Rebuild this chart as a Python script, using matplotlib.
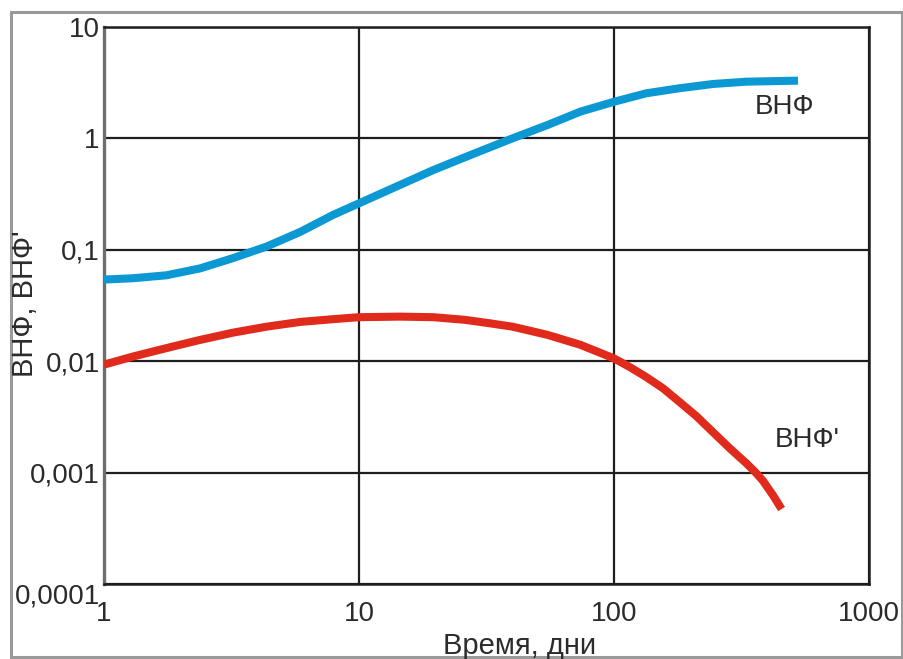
import matplotlib
matplotlib.use("Agg")
import matplotlib.pyplot as plt
import matplotlib.transforms as mtransforms
from matplotlib.patches import Rectangle

plt.rcParams['font.family'] = ['Liberation Sans', 'DejaVu Sans']

# ВНФ - водонефтяной фактор и его производная по времени
t_vnf = [1, 1.3, 1.76, 2.38, 3.2, 4.35, 5.9, 7.9, 10, 14.5, 19.6, 26.4, 30, 40, 55,
         74, 100, 134, 181, 245, 331, 528]
vnf = [0.054, 0.0555, 0.059, 0.068, 0.084, 0.107, 0.145, 0.205, 0.261, 0.382, 0.52,
       0.685, 0.77, 1.0, 1.32, 1.74, 2.13, 2.54, 2.82, 3.08, 3.23, 3.30]

t_dvnf = [1, 1.3, 1.76, 2.38, 3.2, 4.35, 5.9, 7.9, 10, 14.5, 19.6, 26, 32, 40, 55, 74,
          100, 115, 134, 156, 181, 211, 245, 285, 331, 360, 385, 422, 455]
dvnf = [0.0093, 0.011, 0.0131, 0.0155, 0.018, 0.0204, 0.0225, 0.0238, 0.0248, 0.0251,
        0.0248, 0.0235, 0.0220, 0.0204, 0.0172, 0.0140, 0.0106, 0.0089, 0.0072, 0.0057,
        0.0043, 0.0032, 0.0023, 0.00165, 0.00121, 0.00100, 0.00084, 0.00062, 0.00047]

y_ticks = [0.0001, 0.001, 0.01, 0.1, 1, 10]
y_labels = ['0,0001', '0,001', '0,01', '0,1', '1', '10']
x_ticks = [1, 10, 100, 1000]
x_labels = ['1', '10', '100', '1000']

text_color = '#2b2b2b'

fig = plt.figure(figsize=(9.04, 6.59), dpi=100)
ax = fig.add_axes([0.115, 0.114, 0.846, 0.845])

ax.plot(t_vnf, vnf, color='#0c98d2', lw=5.8, solid_capstyle='butt', zorder=3)
ax.plot(t_dvnf, dvnf, color='#e02a1c', lw=5.8, solid_capstyle='butt', zorder=3)

ax.set_xscale('log')
ax.set_yscale('log')
ax.set_xlim(1, 1000)
ax.set_ylim(0.0001, 10)

ax.set_xticks(x_ticks)
ax.set_xticklabels(x_labels)
ax.set_yticks(y_ticks)
ax.set_yticklabels(y_labels)
ax.minorticks_off()
ax.tick_params(length=0, labelsize=20, labelcolor=text_color)
ax.tick_params(axis='x', pad=12)
ax.tick_params(axis='y', pad=3)

# нижнюю подпись оси Y сдвигаем вниз, чтобы не налезала на "1"
lbl = ax.get_yticklabels()[0]
lbl.set_transform(lbl.get_transform() + mtransforms.ScaledTranslation(0, -10 / 100, fig.dpi_scale_trans))

ax.grid(True, which='major', color='#1e1e1e', lw=1.6)
for side in ['top', 'right', 'bottom']:
    ax.spines[side].set_color('#1e1e1e')
    ax.spines[side].set_linewidth(1.8)
ax.spines['left'].set_color('#6e6e6e')
ax.spines['left'].set_linewidth(2.4)

ax.text(357, 1.91, 'ВНФ', fontsize=20, color=text_color, ha='left', va='center')
ax.text(428, 0.00196, "ВНФ'", fontsize=20, color=text_color, ha='left', va='center')

fig.text(25 / 904, 1 - 304 / 659, "ВНФ, ВНФ'", fontsize=21, color=text_color,
         rotation=90, ha='center', va='center')
fig.text(520 / 904, 1 - 646 / 659, 'Время, дни', fontsize=21, color=text_color,
         ha='center', va='center')

# рамка вокруг рисунка
fig.patches.append(Rectangle((11 / 904, 2 / 659), 891 / 904, 645 / 659,
                             transform=fig.transFigure, fill=False,
                             edgecolor='#9a9a9a', lw=2.2, zorder=0))

fig.savefig('out.png', dpi=100)
